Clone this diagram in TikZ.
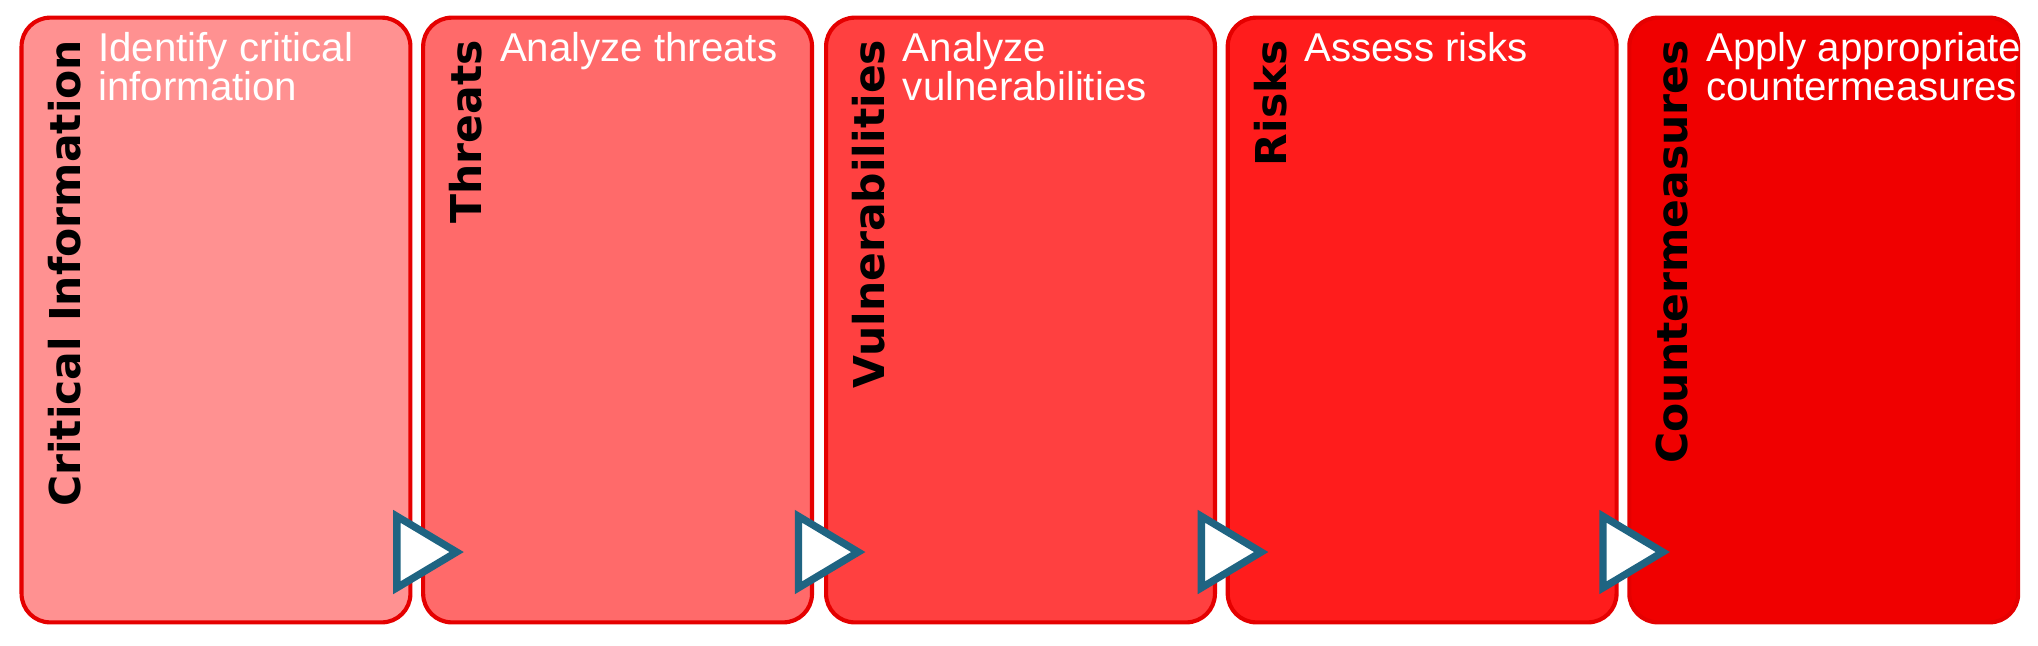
\documentclass[tikz,border=0pt]{standalone}
\usepackage{fontspec}
\setmainfont{Liberation Sans}
\newfontfamily\headfont{DejaVu Sans}
\begin{document}
\begin{tikzpicture}[x=0.01cm,y=-0.01cm,
  stage/.style={draw=red!90!black!100,line width=0.9pt,rounded corners=0.22cm,minimum width=2.99cm,minimum height=4.65cm,anchor=north west,inner sep=0pt},
  head/.style={rotate=90,anchor=north east,inner sep=0pt,font=\headfont\bfseries\fontsize{9.3}{11}\selectfont},
  sub/.style={anchor=north west,inner sep=0pt,text=white,align=left,font=\fontsize{8.8}{8.6}\selectfont},
  tri/.style={draw={rgb,255:red,31;green,100;blue,130},fill=white,line width=1.6pt,line join=miter}]
\useasboundingbox (0,0) rectangle (1568,497);
\definecolor{c1}{RGB}{255,145,145}
\definecolor{c2}{RGB}{255,106,106}
\definecolor{c3}{RGB}{255,64,64}
\definecolor{c4}{RGB}{255,28,28}
\definecolor{c5}{RGB}{240,0,0}
\foreach \i/\x/\c/\h/\s in {1/15/c1/Critical Information/{Identify critical\\information},
  2/324/c2/Threats/{Analyze threats},
  3/634/c3/Vulnerabilities/{Analyze\\vulnerabilities},
  4/943/c4/Risks/{Assess risks},
  5/1252/c5/Countermeasures/{Apply appropriate\\countermeasures}}{
  \node[stage,fill=\c] (b\i) at (\x,12) {};
  \node[head] (h\i) at (\x+21,30) {\h};
  \node[sub] (s\i) at (\x+60,24) {\s};
}
\foreach \i in {1,2,3,4}{
  \coordinate (t\i) at ([xshift=-0.12cm,yshift=-3.85cm]b\i.north east);
  \draw[tri] (t\i) -- ++(0,55) -- ++(46,-27.5) -- cycle;
}
\end{tikzpicture}
\end{document}
